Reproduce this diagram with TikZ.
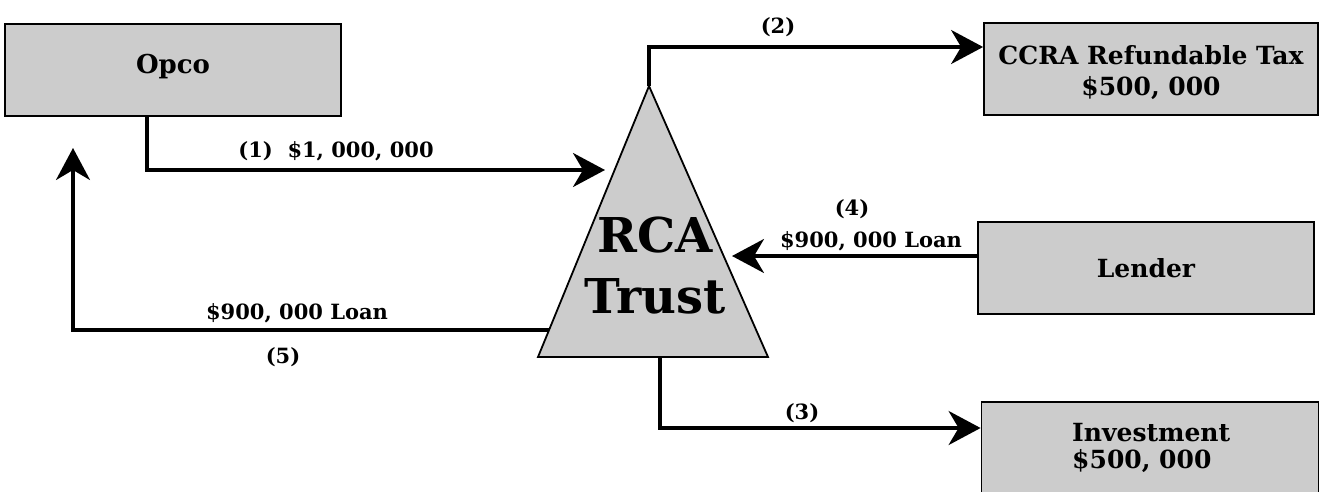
\documentclass[tikz,border=0pt]{standalone}
\usepackage{fontspec}
\setmainfont{DejaVu Serif}
\usetikzlibrary{arrows.meta,calc}
\definecolor{boxgray}{HTML}{CCCCCC}
\begin{document}
\begin{tikzpicture}[x=1pt,y=-1pt,
  box/.style={draw=black, line width=1.8pt, fill=boxgray, inner sep=0pt,
    minimum width=336pt, minimum height=92pt},
  boxtext/.style={anchor=base, inner sep=0pt, align=center,
    font=\fontsize{25}{31}\selectfont\bfseries},
  flow/.style={line width=3.4pt, -{Stealth[length=32pt,width=34pt,inset=10pt]}},
  lbl/.style={anchor=base, inner sep=0pt, font=\fontsize{21}{26}\selectfont\bfseries}]
\useasboundingbox (0,0) rectangle (1319,491);
% boxes
\node[box] (opco) at (173,70) {};
\node[box, minimum width=334pt] (ccra) at (1151,69) {};
\node[box] (lender) at (1146,268) {};
\node[box, minimum width=337pt] (inv) at (1150,448) {};
\node[boxtext, font=\fontsize{26}{31}\selectfont\bfseries] (opcoT) at (173,73) {Opco};
\node[boxtext] (ccraT) at (1151,95) {CCRA Refundable Tax\\\$500, 000};
\node[boxtext] (lenderT) at (1146,277) {Lender};
\node[boxtext, anchor=base west, align=left, font=\fontsize{25}{27}\selectfont\bfseries] (invT) at (1072,468) {Investment\\\$500, 000};
% triangle
\coordinate (tA) at (649,86);
\coordinate (tL) at (538,357);
\coordinate (tR) at (768,357);
\filldraw[fill=boxgray, line width=1.8pt, line join=miter] (tA) -- (tL) -- (tR) -- cycle;
\node[boxtext, font=\fontsize{48}{61}\selectfont\bfseries] (rca) at (655,313) {RCA\\Trust};
% connector end points
\coordinate (t1) at (605,170);
\coordinate (tB) at (660,357);
\coordinate (t4) at (732,256);
\coordinate (t5) at (549,330);
\coordinate (o5) at (73,148);
% connectors
\draw[flow] ([xshift=143pt]opco.south west) |- (t1);
\draw[flow] (tA) |- ([yshift=22pt]ccra.west);
\draw[flow] (tB) |- ([yshift=20pt]inv.west);
\draw[flow] ([yshift=12pt]lender.west) -- (t4);
\draw[flow] (t5) -| (o5);
% labels
\node[lbl] (l2) at (778,33) {(2)};
\node[lbl] (l1) at (336,157) {(1)\hspace{0.7em}\$1, 000, 000};
\node[lbl] (l4a) at (852,215) {(4)};
\node[lbl] (l4b) at (871,247) {\$900, 000 Loan};
\node[lbl] (l5a) at (297,319) {\$900, 000 Loan};
\node[lbl] (l5b) at (283,363) {(5)};
\node[lbl] (l3) at (802,419) {(3)};
\end{tikzpicture}
\end{document}
